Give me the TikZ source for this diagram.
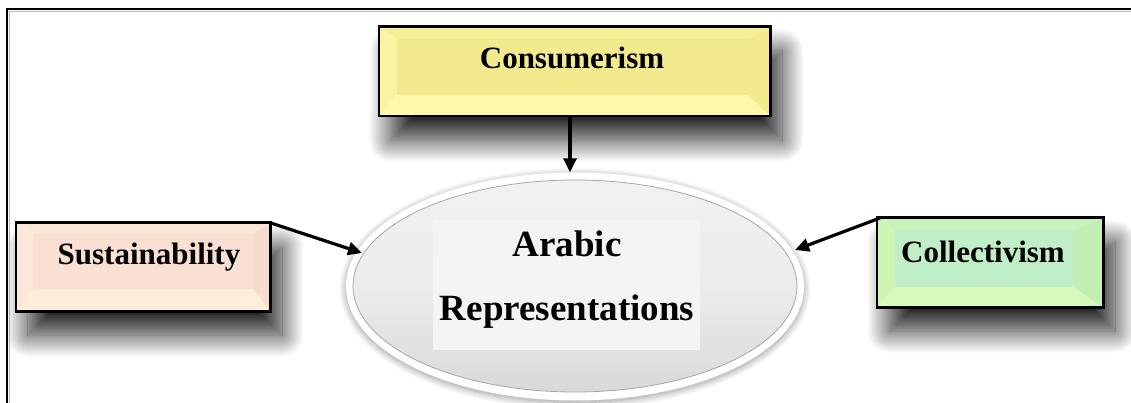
\documentclass[tikz,border=0pt]{standalone}
\usepackage{fontspec}
\setmainfont{Liberation Serif}
\usetikzlibrary{shadows.blur,arrows.meta,shapes.geometric}

\definecolor{yface}{HTML}{F2EA8C}
\definecolor{ytop}{HTML}{F6EF98}
\definecolor{yleft}{HTML}{FBF3A2}
\definecolor{yright}{HTML}{F3EA8E}
\definecolor{ybot}{HTML}{FFF8AA}
\definecolor{pface}{HTML}{F9E0D2}
\definecolor{ptop}{HTML}{FBE5D6}
\definecolor{pleft}{HTML}{FCE8D8}
\definecolor{pright}{HTML}{F8DCCB}
\definecolor{pbot}{HTML}{FEEDD9}
\definecolor{gface}{HTML}{C0EEC6}
\definecolor{gtop}{HTML}{C8F1BC}
\definecolor{gleft}{HTML}{CFF5B5}
\definecolor{gright}{HTML}{C2EEB3}
\definecolor{gbot}{HTML}{D6F8B8}

\newcommand\bevelbox[6]{%
 \fill[#2] (#1o1) -- (#1o2 |- #1o1) -- (#1i2 |- #1i1) -- (#1i1) -- cycle;
 \fill[#5] (#1o1 |- #1o2) -- (#1o2) -- (#1i2) -- (#1i1 |- #1i2) -- cycle;
 \fill[#3] (#1o1) -- (#1i1) -- (#1i1 |- #1i2) -- (#1o1 |- #1o2) -- cycle;
 \fill[#4] (#1o2 |- #1o1) -- (#1i2 |- #1i1) -- (#1i2) -- (#1o2) -- cycle;
 \fill[#6] (#1i1) rectangle (#1i2);
 \draw[line width=2.6pt] (#1o1) rectangle (#1o2);
}

\tikzset{
 conn/.style={line width=3.2pt, -{Triangle[length=14pt,width=13pt]}},
 boxshadow/.style={blur shadow={shadow xshift=12pt,shadow yshift=-24pt,shadow blur radius=22pt,shadow blur steps=30,shadow opacity=85}},
 boxnode/.style={boxshadow, fill=white, inner sep=0pt},
 lbl/.style={font=\bfseries\fontsize{31}{36}\selectfont, inner sep=0pt, anchor=base},
 biglbl/.style={font=\bfseries\fontsize{37}{40}\selectfont, inner sep=0pt, anchor=base},
}

\begin{document}
\begin{tikzpicture}[x=1pt,y=-1pt]
\useasboundingbox (0,0) rectangle (1131,403);
% frame
\draw[gray!55, line width=1.2pt] (9.5,403) -- (9.5,11.8) -- (1131,11.8);
\draw[line width=2.4pt] (7,403) -- (7,9) -- (1131,9);

% Consumerism box
\node[boxnode, minimum width=391pt, minimum height=89pt] (cons) at (574.5,71.5) {};
\coordinate (co1) at (cons.north west);
\coordinate (co2) at (cons.south east);
\coordinate (ci1) at (397,39);
\coordinate (ci2) at (748,95);
\bevelbox{c}{ytop}{yleft}{yright}{ybot}{yface}
\node[lbl] (consT) at (572,69) {Consumerism};

% Sustainability box
\node[boxnode, minimum width=254pt, minimum height=88pt] (sust) at (143,267) {};
\coordinate (so1) at (sust.north west);
\coordinate (so2) at (sust.south east);
\coordinate (si1) at (33,233);
\coordinate (si2) at (253,289);
\bevelbox{s}{ptop}{pleft}{pright}{pbot}{pface}
\node[lbl] (sustT) at (149,264) {Sustainability};

% Collectivism box
\node[boxnode, minimum width=226pt, minimum height=89pt] (coll) at (990,262.5) {};
\coordinate (lo1) at (coll.north west);
\coordinate (lo2) at (coll.south east);
\coordinate (li1) at (895,230);
\coordinate (li2) at (1073,287);
\bevelbox{l}{gtop}{gleft}{gright}{gbot}{gface}
\node[lbl] (collT) at (983,262) {Collectivism};

% Ellipse
\node[ellipse, minimum width=458pt, minimum height=228pt, fill=white,
      blur shadow={shadow xshift=0pt,shadow yshift=-2pt,shadow blur radius=7pt,shadow blur steps=15,shadow opacity=40}]
      (ell) at (575,286.5) {};
\node[ellipse, minimum width=444pt, minimum height=212pt, inner sep=0pt,
      draw=gray!70, line width=0.8pt,
      top color=gray!11, bottom color=gray!30, middle color=gray!15]
      (ellin) at (575,286) {};
\node[fill=gray!9, minimum width=267pt, minimum height=130pt, inner sep=0pt] (rep) at (566.5,285) {};
\node[biglbl] (repA) at (567,256) {Arabic};
\node[biglbl] (repB) at (567,320) {Representations};

% connectors
\draw[conn] (cons.south -| 570,0) -- (ell.north -| 570,0);
\draw[conn] (sust.north east) -- (362,253);
\draw[conn] (880,218) -- (795,250);
\end{tikzpicture}
\end{document}
